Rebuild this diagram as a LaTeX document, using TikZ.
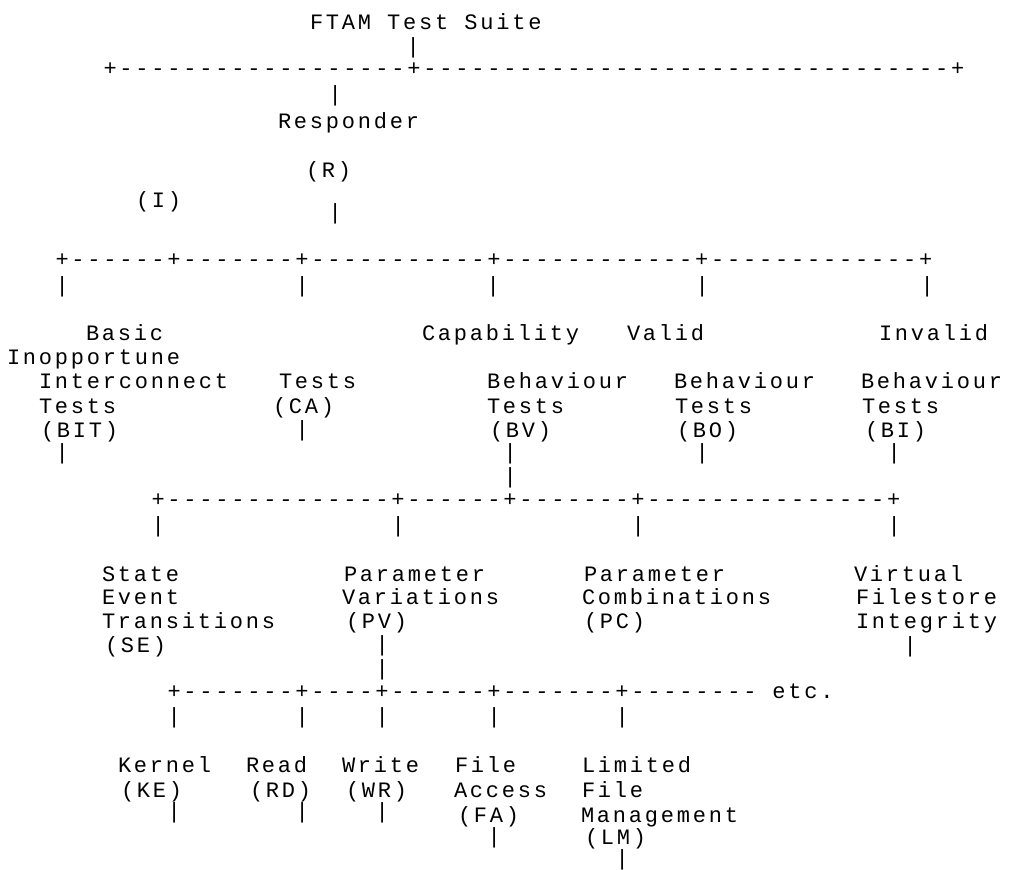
\documentclass[tikz,border=0pt]{standalone}
\usepackage{fontspec}
% monospaced face, spaced out so that one cell is 16pt wide at 22pt
\setmonofont{Liberation Mono}[LetterSpace=12.7]
\begin{document}
\begin{tikzpicture}[x=1pt,y=-1pt,
  txt/.style={anchor=base west, inner sep=0pt, outer sep=0pt,
              font=\ttfamily\fontsize{22}{26}\selectfont}]
\fill[white] (0,0) rectangle (1015,870);
\useasboundingbox (0,0) rectangle (1015,870);

% top level
\node[txt] (suite) at (310,29) {FTAM Test Suite};
\node[txt] (v0) at (406.5,53) {|};
\node[txt] (barA) at (103.5,75) {+------------------+---------------------------------+};
\node[txt] (v1) at (328.5,101) {|};
\node[txt] (resp) at (278,128) {Responder};
\node[txt] (rtag) at (306,177) {(R)};
\node[txt] (itag) at (136,207) {(I)};
\node[txt] (v2) at (328.5,219) {|};

% test groups
\node[txt] (barB) at (55.5,266) {+------+-------+-----------+------------+-------------+};
\node[txt] (vb1) at (55.5,292) {|};
\node[txt] (vb2) at (295.5,292) {|};
\node[txt] (vb3) at (486.5,292) {|};
\node[txt] (vb4) at (695.5,292) {|};
\node[txt] (vb5) at (920.5,292) {|};

\node[txt] (basic) at (86,340) {Basic};
\node[txt] (capab) at (422,340) {Capability};
\node[txt] (valid) at (627,340) {Valid};
\node[txt] (inval) at (879,340) {Invalid};
\node[txt] (inopp) at (7,364) {Inopportune};
\node[txt] (inter) at (39,388) {Interconnect};
\node[txt] (catest) at (279,388) {Tests};
\node[txt] (bvbeh) at (487,388) {Behaviour};
\node[txt] (bobeh) at (674,388) {Behaviour};
\node[txt] (bibeh) at (861,388) {Behaviour};
\node[txt] (bittest) at (39,413) {Tests};
\node[txt] (ca) at (273,413) {(CA)};
\node[txt] (bvtest) at (487,413) {Tests};
\node[txt] (botest) at (675,413) {Tests};
\node[txt] (bitest) at (862,413) {Tests};
\node[txt] (bit) at (41,437) {(BIT)};
\node[txt] (vca) at (295.5,436) {|};
\node[txt] (bv) at (490,437) {(BV)};
\node[txt] (bo) at (677,437) {(BO)};
\node[txt] (bi) at (865,437) {(BI)};
\node[txt] (vbit) at (55.5,459) {|};
\node[txt] (vbv) at (503.5,459) {|};
\node[txt] (vbo) at (695.5,459) {|};
\node[txt] (vbi) at (887.5,459) {|};
\node[txt] (vbv2) at (503.5,483) {|};

% behaviour subgroups
\node[txt] (barC) at (151.5,506) {+--------------+------+-------+---------------+};
\node[txt] (vc1) at (151.5,532) {|};
\node[txt] (vc2) at (391.5,532) {|};
\node[txt] (vc3) at (631.5,532) {|};
\node[txt] (vc4) at (887.5,532) {|};

\node[txt] (state) at (102,581) {State};
\node[txt] (param1) at (344,581) {Parameter};
\node[txt] (param2) at (584,581) {Parameter};
\node[txt] (virt) at (854,581) {Virtual};
\node[txt] (event) at (102,604) {Event};
\node[txt] (variat) at (342,604) {Variations};
\node[txt] (combin) at (582,604) {Combinations};
\node[txt] (filest) at (856,604) {Filestore};
\node[txt] (trans) at (102,628) {Transitions};
\node[txt] (pv) at (346,628) {(PV)};
\node[txt] (pc) at (584,628) {(PC)};
\node[txt] (integ) at (856,628) {Integrity};
\node[txt] (se) at (105,652) {(SE)};
\node[txt] (vpv) at (375.5,651) {|};
\node[txt] (vvfi) at (903.5,652) {|};
\node[txt] (vpv2) at (375.5,675) {|};

% functional units
\node[txt] (barD) at (167.5,698) {+-------+----+------+-------+-------- etc.};
\node[txt] (vd1) at (167.5,723) {|};
\node[txt] (vd2) at (295.5,723) {|};
\node[txt] (vd3) at (375.5,723) {|};
\node[txt] (vd4) at (487.5,723) {|};
\node[txt] (vd5) at (615.5,723) {|};

\node[txt] (kernel) at (118,772) {Kernel};
\node[txt] (read) at (246,772) {Read};
\node[txt] (write) at (342,772) {Write};
\node[txt] (fafile) at (455,772) {File};
\node[txt] (limit) at (582,772) {Limited};
\node[txt] (ke) at (121,797) {(KE)};
\node[txt] (rd) at (250,797) {(RD)};
\node[txt] (wr) at (346,797) {(WR)};
\node[txt] (access) at (454,797) {Access};
\node[txt] (lmfile) at (582,797) {File};
\node[txt] (vke) at (167.5,818) {|};
\node[txt] (vrd) at (295.5,818) {|};
\node[txt] (vwr) at (375.5,818) {|};
\node[txt] (fa) at (458,822) {(FA)};
\node[txt] (manag) at (581,822) {Management};
\node[txt] (vfa) at (487.5,843) {|};
\node[txt] (lm) at (585,844.5) {(LM)};
\node[txt] (vlm) at (615.5,865.3) {|};
\end{tikzpicture}
\end{document}
